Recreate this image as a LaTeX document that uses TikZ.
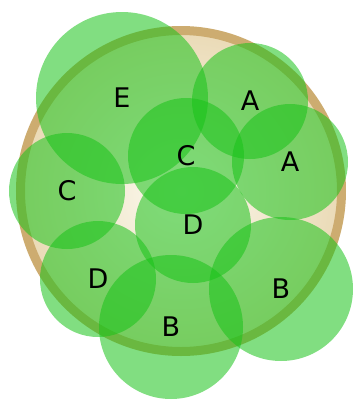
\documentclass[tikz,border=0pt]{standalone}
\usepackage{fontspec}
\setsansfont{DejaVu Sans}
\usepackage{xcolor}
\usepackage{tikz}
\usetikzlibrary{positioning,shapes}

\definecolor{rimtan}{RGB}{205,172,112}
\definecolor{plateout}{RGB}{234,218,182}
\definecolor{platein}{RGB}{252,250,240}
\definecolor{blobgreen}{RGB}{25,195,25}

\begin{document}
\begin{tikzpicture}[x=1pt,y=-1pt,
    plate/.style={circle, draw=rimtan, line width=9pt, inner sep=0pt, minimum size=321pt, inner color=platein, outer color=plateout},
    blob/.style={circle, draw=none, fill=blobgreen, fill opacity=0.55, inner sep=0pt, minimum size=116pt},
    bigblob/.style={blob, minimum size=144pt},
    tag/.style={text=black, font=\sffamily\fontsize{27}{27}\selectfont, inner sep=0pt}]
                        \useasboundingbox (0,0) rectangle (354,400);
                        \node[plate] (dish) at (181, 191) {};
                        % green patches
                        \node[blob, minimum size=172pt] (e) at (122, 98) {};
                        \node[blob] (a1) at (250, 101) {};
                        \node[blob] (a2) at (290, 162) {};
                        \node[blob] (c1) at (186, 156) {};
                        \node[blob] (c2) at (67, 191) {};
                        \node[blob] (d1) at (193, 225) {};
                        \node[blob] (d2) at (98, 279) {};
                        \node[bigblob] (b1) at (171, 327) {};
                        \node[bigblob] (b2) at (281, 289) {};
                        % letters
                        \node[tag] (le) at (e) {E};
                        \node[tag] (la1) at (a1) {A};
                        \node[tag] (la2) at (a2) {A};
                        \node[tag] (lc1) at (c1) {C};
                        \node[tag] (lc2) at (c2) {C};
                        \node[tag] (ld1) at (d1) {D};
                        \node[tag] (ld2) at (d2) {D};
                        \node[tag] (lb1) at (b1) {B};
                        \node[tag] (lb2) at (b2) {B};
                        \end{tikzpicture}
\end{document}
